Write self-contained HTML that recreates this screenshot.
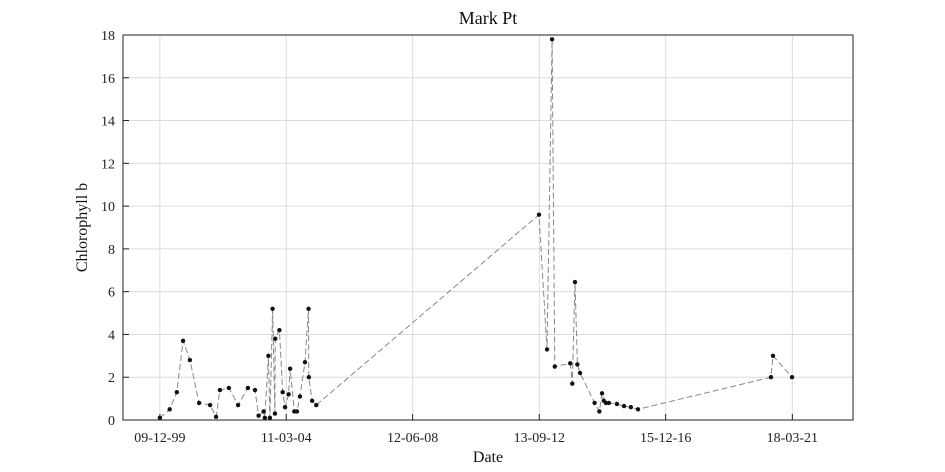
<!DOCTYPE html>
<html><head><meta charset="utf-8"><style>
body{margin:0;background:#fff;}
svg{display:block;font-family:"Liberation Serif",serif;}
</style></head><body>
<svg id="chart" width="945" height="472">
<rect width="945" height="472" fill="#fff"/>
</svg>
<script>
const dates=[1999.94,2000.27,2000.51,2000.72,2000.95,2001.26,2001.63,2001.83,2001.96,2002.26,2002.57,2002.90,2003.14,2003.26,2003.43,2003.47,2003.59,2003.64,2003.73,2003.81,2003.82,2003.96,2004.07,2004.15,2004.27,2004.32,2004.46,2004.55,2004.65,2004.82,2004.94,2004.95,2005.06,2005.20,2012.69,2012.96,2013.13,2013.22,2013.74,2013.81,2013.90,2013.98,2014.07,2014.56,2014.72,2014.81,2014.87,2014.94,2015.04,2015.31,2015.55,2015.78,2016.02,2020.49,2020.56,2021.20];
const values=[0.1,0.5,1.3,3.7,2.8,0.8,0.7,0.15,1.4,1.5,0.7,1.5,1.4,0.2,0.4,0.1,3.0,0.1,5.2,0.3,3.8,4.2,1.3,0.6,1.2,2.4,0.4,0.4,1.1,2.7,5.2,2.0,0.9,0.7,9.6,3.3,17.8,2.5,2.65,1.7,6.45,2.6,2.2,0.8,0.4,1.25,0.9,0.8,0.8,0.75,0.65,0.6,0.5,2.0,3.0,2.0];
const xTickVals=[1999.94,2004.19,2008.44,2012.70,2016.95,2021.21];
const xTickLabels=["09-12-99","11-03-04","12-06-08","13-09-12","15-12-16","18-03-21"];
const yTicks=[0,2,4,6,8,10,12,14,16,18];
const L=123,R=853,T=35,B=420,X0=1998.70,X1=2023.25,Y0=0,Y1=18;
const sx=v=>L+(v-X0)/(X1-X0)*(R-L);
const sy=v=>B-(v-Y0)/(Y1-Y0)*(B-T);
const svg=document.getElementById('chart');
const NS='http://www.w3.org/2000/svg';
function mk(t,a,p){const e=document.createElementNS(NS,t);for(const k in a)e.setAttribute(k,a[k]);(p||svg).appendChild(e);return e;}
// grid
yTicks.forEach((v,i)=>{
 const g=mk('line',{x1:L,x2:R,y1:sy(v),y2:sy(v),stroke:'#dcdcdc','stroke-width':1});
 
 
 const t=mk('text',{x:L-8,y:sy(v)+5,'text-anchor':'end','font-size':14,fill:'#222'});
 t.textContent=v;
 
 
 mk('line',{x1:L,x2:L+6,y1:sy(v),y2:sy(v),stroke:'#222'});
});
xTickVals.forEach((v,i)=>{
 const g=mk('line',{x1:sx(v),x2:sx(v),y1:T,y2:B,stroke:'#dcdcdc','stroke-width':1});
 
 
 mk('line',{x1:sx(v),x2:sx(v),y1:B,y2:B-6,stroke:'#222'});
 const t=mk('text',{x:sx(v),y:B+22,'text-anchor':'middle','font-size':14,fill:'#222'});
 t.textContent=xTickLabels[i];
 
 
});
const box=mk('rect',{x:L,y:T,width:R-L,height:B-T,fill:'none',stroke:'#222','stroke-width':1});


const pts=dates.map((d,i)=>sx(d).toFixed(1)+','+sy(values[i]).toFixed(1)).join(' ');
const line=mk('polyline',{points:pts,fill:'none',stroke:'#888','stroke-width':1,'stroke-dasharray':'6,3'});


dates.forEach((d,i)=>{
 const c=mk('circle',{cx:sx(d),cy:sy(values[i]),r:2.2,fill:'#111'});
 
 
});
const title=mk('text',{x:(L+R)/2,y:24,'text-anchor':'middle','font-size':18,fill:'#111'});
title.textContent='Mark Pt';


const xl=mk('text',{x:(L+R)/2,y:462,'text-anchor':'middle','font-size':16,fill:'#111'});
xl.textContent='Date';


const yl=mk('text',{x:0,y:0,'text-anchor':'middle','font-size':16,fill:'#111',transform:'translate(87,'+((T+B)/2)+') rotate(-90)'});
yl.textContent='Chlorophyll b';


</script>
</body></html>
